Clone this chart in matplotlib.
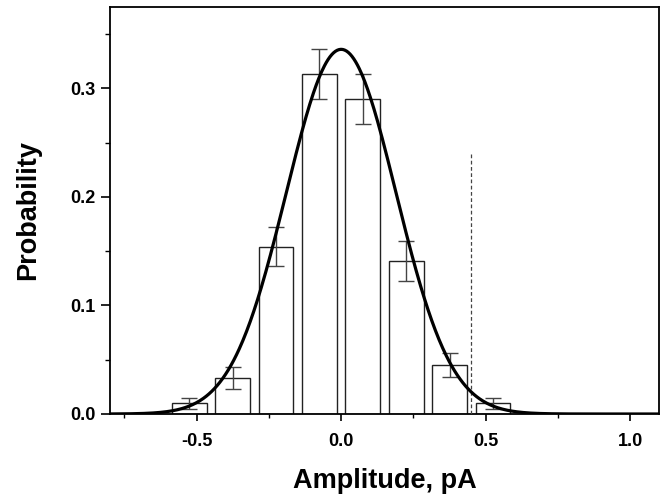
import matplotlib.pyplot as plt
import numpy as np
from matplotlib.ticker import MultipleLocator

# histogram of amplitudes
bin_centers = [-0.525, -0.375, -0.225, -0.075, 0.075, 0.225, 0.375, 0.525]
probability = [0.0098, 0.033, 0.154, 0.313, 0.290, 0.141, 0.045, 0.0098]
prob_err = [0.0048, 0.010, 0.018, 0.023, 0.023, 0.018, 0.011, 0.0048]

# gaussian fit parameters
fit_amp = 0.336
fit_mean = 0.0
fit_sigma = 0.19

threshold_x = 0.45
threshold_top = 0.24

plt.rcParams["font.family"] = ["Liberation Sans", "DejaVu Sans"]
plt.rcParams["font.weight"] = "bold"
plt.rcParams["axes.unicode_minus"] = False

fig = plt.figure(figsize=(6.67, 4.99), dpi=100)
ax = fig.add_axes([110 / 667, 1 - 414 / 499, 549 / 667, 407 / 499])

ax.bar(bin_centers, probability, width=0.12, color="white",
       edgecolor="#222222", linewidth=1.0, zorder=2)
ax.errorbar(bin_centers, probability, yerr=prob_err, fmt="none",
            ecolor="#444444", elinewidth=1.0, capsize=6, capthick=1.0, zorder=3)

xs = np.linspace(-0.8, 1.1, 600)
ax.plot(xs, fit_amp * np.exp(-(xs - fit_mean) ** 2 / (2 * fit_sigma ** 2)),
        color="black", linewidth=2.3, zorder=4)

ax.plot([threshold_x, threshold_x], [0, threshold_top], color="#444444",
        linewidth=0.9, linestyle=(0, (3, 2)), zorder=3)

ax.set_xlim(-0.8, 1.1)
ax.set_ylim(0, 0.375)
ax.xaxis.set_major_locator(MultipleLocator(0.5))
ax.xaxis.set_minor_locator(MultipleLocator(0.25))
ax.yaxis.set_major_locator(MultipleLocator(0.1))
ax.yaxis.set_minor_locator(MultipleLocator(0.05))

for s in ax.spines.values():
    s.set_linewidth(1.3)

ax.tick_params(axis="x", which="major", length=5, width=1.2, pad=9, labelsize=13)
ax.tick_params(axis="x", which="minor", length=3, width=1.0)
ax.tick_params(axis="y", which="major", length=6.5, width=1.2, pad=4, labelsize=13)
ax.tick_params(axis="y", which="minor", length=3.6, width=1.0)
for lab in ax.get_xticklabels() + ax.get_yticklabels():
    lab.set_fontweight("bold")

ax.set_xlabel("Amplitude, pA", fontsize=19.5, fontweight="bold", labelpad=13)
ax.set_ylabel("Probability", fontsize=19.5, fontweight="bold")
ax.yaxis.set_label_coords(-0.125, 0.5)

fig.savefig("out.png", dpi=100)
